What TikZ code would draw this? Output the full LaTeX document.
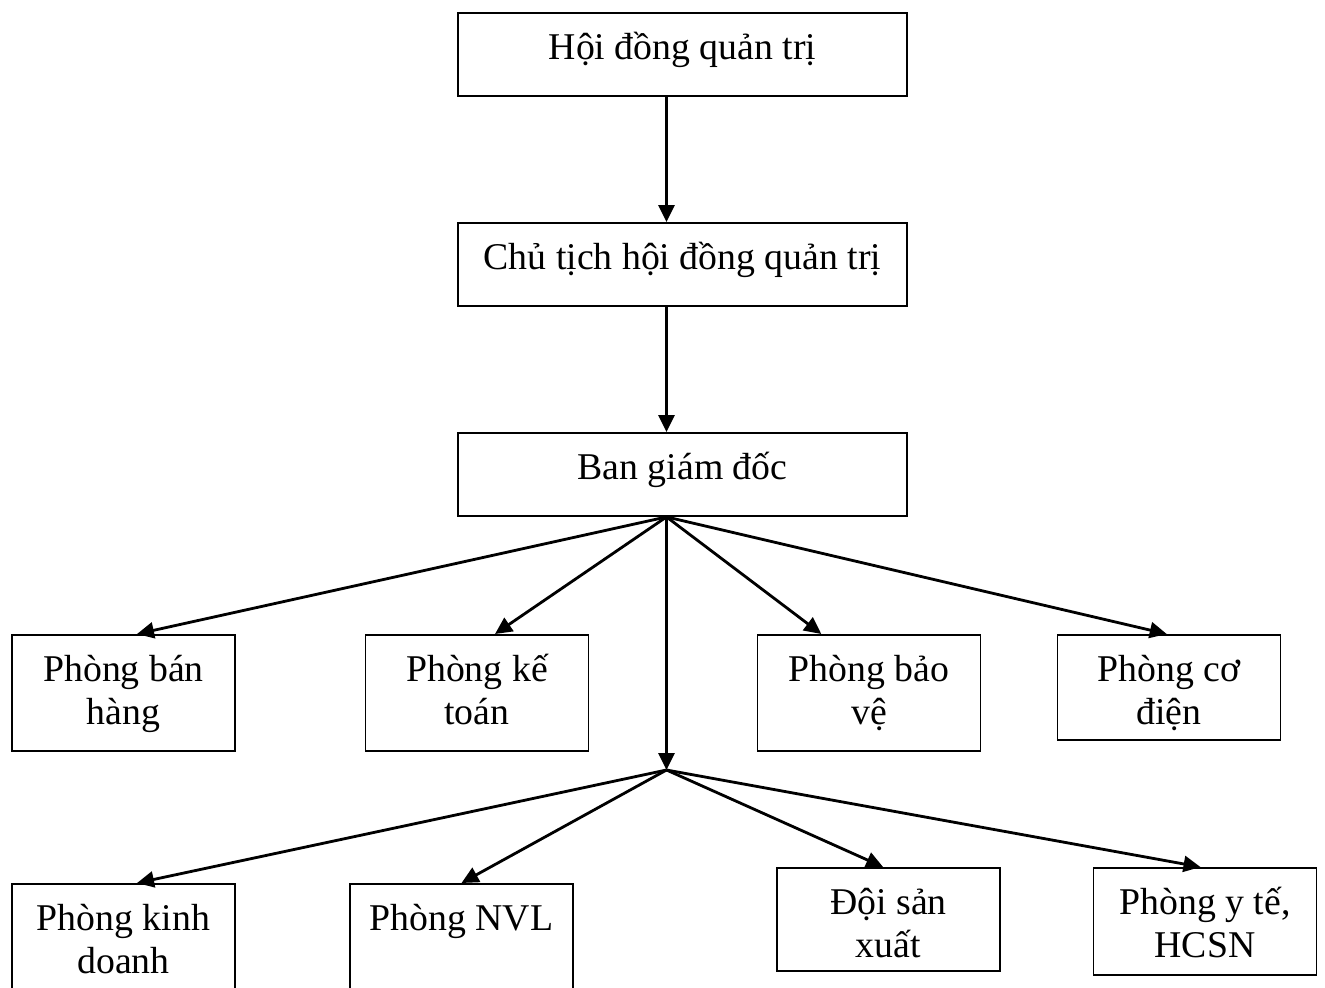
\documentclass[tikz,border=0pt]{standalone}
\usepackage{fontspec}
\setmainfont{Liberation Serif}
\usetikzlibrary{arrows.meta,calc}
% one drawing unit
\newlength\pxu
\setlength\pxu{0.02cm}
% two centred lines with a fixed distance between their baselines
\newcommand\twolines[2]{\vbox{\offinterlineskip\halign{\hfil##\hfil\cr
  \smash{#1}\cr\noalign{\kern 43\pxu}\smash{#2}\cr}}}
\begin{document}
\begin{tikzpicture}[x=0.02cm,y=-0.02cm,
  box/.style={draw,line width=1.1pt,inner sep=0pt,anchor=north,
    font=\fontsize{21.5}{24}\selectfont},
  wide/.style={box,minimum width=449*0.02cm,
    text height=47*0.02cm,text depth=36*0.02cm},
  unit/.style={box,minimum width=223*0.02cm,
    text height=90*0.02cm,text depth=#1*0.02cm},
  link/.style={line width=1.6pt,-{Triangle[length=0.34cm,width=0.32cm]}}]
\clip (0,0) rectangle (1325,987);
% top of the chart
\node[wide] (hd)  at (682.5,12)  {\smash{Hội đồng quản trị}};
\node[wide] (ct)  at (682.5,222) {\smash{Chủ tịch hội đồng quản trị}};
\node[wide] (bgd) at (682.5,432) {\smash{Ban giám đốc}};
% first row of departments
\node[unit=26] (bh) at (123.5,634) {\twolines{Phòng bán}{hàng}};
\node[unit=26] (kt) at (477,634)   {\twolines{Phòng kế}{toán}};
\node[unit=26] (bv) at (869,634)   {\twolines{Phòng bảo}{vệ}};
\node[unit=15] (cd) at (1169,634)  {\twolines{Phòng cơ}{điện}};
% second row of departments
\node[unit=40] (kd)  at (123.5,883) {\twolines{Phòng kinh}{doanh}};
\node[unit=40] (nvl) at (461.5,883) {\twolines{Phòng NVL}{}};
\node[unit=13] (sx)  at (888.5,867) {\twolines{Đội sản}{xuất}};
\node[unit=17] (yt)  at (1205,867)  {\twolines{Phòng y tế,}{HCSN}};
% hubs of the two fans
\coordinate (f1) at ($(bgd.south)+(-16,0)$);
\coordinate (f2) at (666.5,770);
% connectors
\draw[link] ($(hd.south)+(-16,0)$) -- ($(ct.north)+(-16,0)$);
\draw[link] ($(ct.south)+(-16,0)$) -- ($(bgd.north)+(-16,0)$);
\draw[link] (f1) -- ($(bh.north west)!0.56!(bh.north east)$);
\draw[link] (f1) -- ($(kt.north west)!0.58!(kt.north east)$);
\draw[link] (f1) -- ($(bv.north west)!0.288!(bv.north east)$);
\draw[link] (f1) -- ($(cd.north west)!0.49!(cd.north east)$);
\draw[link] (f1) -- (f2);
\draw[link] (f2) -- ($(kd.north west)!0.56!(kd.north east)$);
\draw[link] (f2) -- ($(nvl.north west)!0.50!(nvl.north east)$);
\draw[link] (f2) -- ($(sx.north west)!0.476!(sx.north east)$);
\draw[link] (f2) -- ($(yt.north west)!0.48!(yt.north east)$);
\end{tikzpicture}
\end{document}
